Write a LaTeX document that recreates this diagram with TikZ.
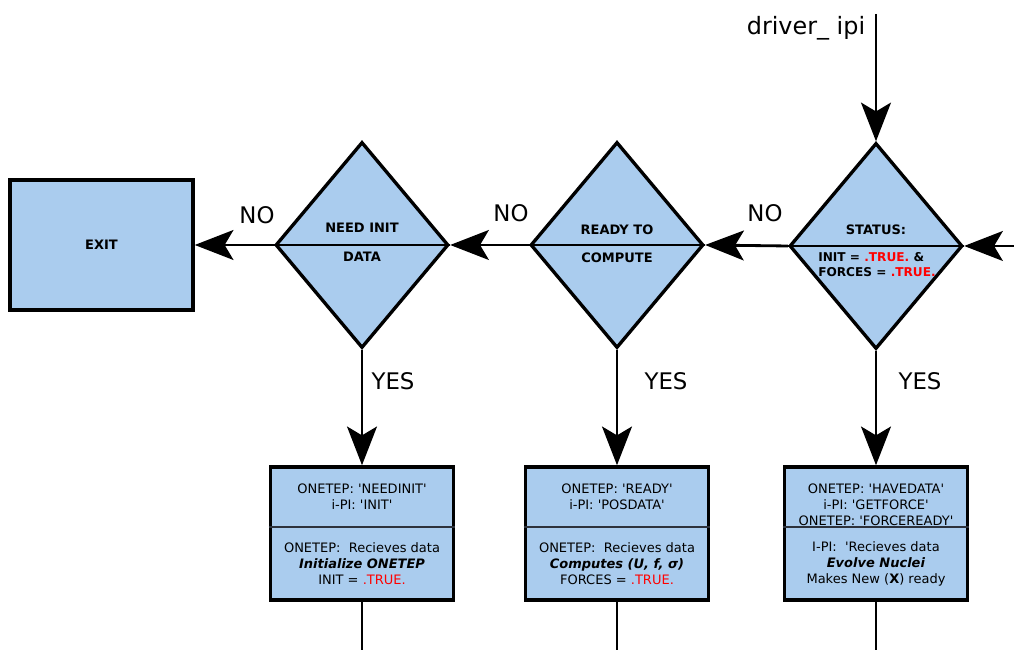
\documentclass[tikz,border=0pt]{standalone}
\usepackage{fontspec}
\setmainfont{DejaVu Sans}
\usepackage{tikz}
\usetikzlibrary{shapes.geometric}
\usetikzlibrary{arrows.meta}
\definecolor{boxblue}{RGB}{170,204,238}
\definecolor{divgray}{RGB}{45,50,60}
\newcommand{\sq}{\textquotesingle}
\tikzset{
	decision/.style={shape=diamond, draw=black, line width=1.9pt, fill=boxblue, inner sep=0pt, minimum width=3.46cm, minimum height=4.12cm},
	exitbox/.style={shape=rectangle, draw=black, line width=2pt, fill=boxblue, minimum width=3.66cm, minimum height=2.6cm},
	statebox/.style={shape=rectangle, draw=black, line width=2pt, fill=boxblue, minimum width=3.66cm, minimum height=2.66cm},
	dtext/.style={font=\bfseries\fontsize{7.4}{8.6}\selectfont, align=center, inner sep=0pt},
	btext/.style={font=\fontsize{7.4}{9.1}\selectfont, align=center, inner sep=0pt},
	flowlabel/.style={font=\fontsize{13}{15}\selectfont, inner sep=0pt},
	bigarrow/.style={line width=1.6pt, -{Stealth[length=22pt, width=17pt, inset=5pt]}},
	wire/.style={line width=1.6pt}
}
\begin{document}
\begin{tikzpicture}
			\useasboundingbox (0, 0) rectangle (20.28, 13);
			% Decisions and boxes:
			\node[exitbox](EX) at (2.03, 8.1){};
			\node[dtext](EXt) at (EX.center){EXIT};
			\node[decision](D1) at (7.24, 8.1){};
			\node[decision](D2) at (12.34, 8.1){};
			\node[decision](D3) at (17.52, 8.08){};
			\draw[line width=1.4pt] (D1.west) -- (D1.east);
			\draw[line width=1.4pt] (D2.west) -- (D2.east);
			\draw[line width=1.4pt] (D3.west) -- (D3.east);
			\node[dtext](D1a) at (7.24, 8.44){NEED INIT};
			\node[dtext](D1b) at (7.24, 7.86){DATA};
			\node[dtext](D2a) at (12.34, 8.4){READY TO};
			\node[dtext](D2b) at (12.34, 7.84){COMPUTE};
			\node[dtext](D3a) at (17.52, 8.4){STATUS:};
			\node[dtext, align=left, font=\bfseries\fontsize{6.9}{8.5}\selectfont](D3b) at (17.54, 7.71){INIT = \textcolor{red}{.TRUE.} \&\\FORCES = \textcolor{red}{.TRUE.}};
			\node[statebox](B1) at (7.24, 2.33){};
			\node[statebox](B2) at (12.34, 2.33){};
			\node[statebox](B3) at (17.52, 2.33){};
			\draw[line width=1.2pt, divgray] (B1.west |- 0, 2.46) -- (B1.east |- 0, 2.46);
			\draw[line width=1.2pt, divgray] (B2.west |- 0, 2.46) -- (B2.east |- 0, 2.46);
			\draw[line width=1.2pt, divgray] (B3.west |- 0, 2.46) -- (B3.east |- 0, 2.46);
			\node[btext](B1a) at (7.24, 3.06){ONETEP: \sq NEEDINIT\sq\\i-PI: \sq INIT\sq};
			\node[btext](B1b) at (7.24, 1.72){ONETEP:\ \ Recieves data\\\textbf{\textit{Initialize ONETEP}}\\INIT = \textcolor{red}{.TRUE.}};
			\node[btext](B2a) at (12.34, 3.06){ONETEP: \sq READY\sq\\i-PI: \sq POSDATA\sq};
			\node[btext](B2b) at (12.34, 1.72){ONETEP:\ \ Recieves data\\\textbf{\textit{Computes (U, f, σ)}}\\FORCES = \textcolor{red}{.TRUE.}};
			\node[btext](B3a) at (17.52, 2.9){ONETEP: \sq HAVEDATA\sq\\i-PI: \sq GETFORCE\sq\\ONETEP: \sq FORCEREADY\sq};
			\node[btext](B3b) at (17.52, 1.72){I-PI:\ \ \sq Recieves data\\\textbf{\textit{Evolve Nuclei}}\\Makes New (\textbf{X}) ready};
			% Flow:
			\coordinate (In) at (17.52, 12.72);
			\coordinate (Back) at (20.28, 8.08);
			\node[flowlabel, font=\fontsize{13.6}{15}\selectfont](Drv) at (16.12, 12.44){driver\_ ipi};
			\draw[bigarrow] (In) -- (D3.north);
			\draw[bigarrow] (Back) -- (D3.east);
			\draw[bigarrow] (D3.west) -- (D2.east);
			\draw[bigarrow] (D2.west) -- (D1.east);
			\draw[bigarrow] (D1.west) -- (EX.east);
			\node[flowlabel](N3) at (15.3, 8.74){NO};
			\node[flowlabel](N2) at (10.22, 8.74){NO};
			\node[flowlabel](N1) at (5.14, 8.7){NO};
			\draw[bigarrow] (D1.south) -- (B1.north);
			\draw[bigarrow] (D2.south) -- (B2.north);
			\draw[bigarrow] (D3.south) -- (B3.north);
			\node[flowlabel](Y1) at (7.86, 5.38){YES};
			\node[flowlabel](Y2) at (13.32, 5.38){YES};
			\node[flowlabel](Y3) at (18.4, 5.38){YES};
			\coordinate (O1) at (7.24, 0);
			\coordinate (O2) at (12.34, 0);
			\coordinate (O3) at (17.52, 0);
			\draw[wire] (B1.south) -- (O1);
			\draw[wire] (B2.south) -- (O2);
			\draw[wire] (B3.south) -- (O3);
		\end{tikzpicture}
\end{document}
